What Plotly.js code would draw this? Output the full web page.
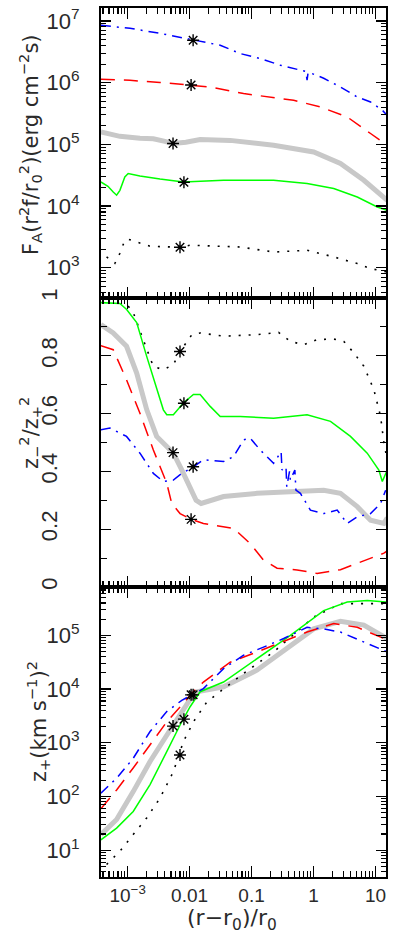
<!DOCTYPE html>
<html>
<head>
<meta charset="utf-8">
<script src="https://cdn.plot.ly/plotly-3.0.1.min.js"></script>
<style>
  html, body { margin: 0; padding: 0; background: #fff; }
  #chart { width: 393px; height: 935px; }
</style>
</head>
<body>
<div id="chart"></div>
<script>
// ---------- data ----------
// Panel 1: F_A (r^2 f / r0^2)  [erg cm^-2 s]
const blueTopX = [3.70e-4, 1.09e-3, 3.33e-3, 7.0e-3, 0.0114, 0.0167, 0.0312, 0.0656, 0.138, 0.291, 0.614, 0.75, 0.787, 0.82, 1.46, 2.72, 5.08, 8.33, 12.9, 15.5];
const blueTopY = [8.5e6, 7.6e6, 6.3e6, 5.4e6, 4.87e6, 4.57e6, 4.04e6, 2.96e6, 2.46e6, 1.92e6, 1.59e6, 1.52e6, 1.1e6, 1.49e6, 1.18e6, 8.5e5, 5.86e5, 4.86e5, 3.57e5, 2.95e5];
const redTopX = [3.70e-4, 1.09e-3, 3.33e-3, 0.01057, 0.0215, 0.0743, 0.201, 0.478, 1.29, 3.50, 8.33, 15.5];
const redTopY = [1.135e6, 1.09e6, 1.01e6, 9.18e5, 8.5e5, 6.65e5, 5.86e5, 5.19e5, 4.04e5, 2.78e5, 1.50e5, 9.66e4];
const greyTopX = [3.70e-4, 7.5e-4, 1.58e-3, 2.6e-3, 4.0e-3, 5.4e-3, 8.7e-3, 0.0148, 0.0452, 0.227, 1.007, 2.72, 6.49, 10.7, 15.5];
const greyTopY = [1.59e5, 1.35e5, 1.26e5, 1.23e5, 1.12e5, 1.03e5, 1.08e5, 1.20e5, 1.16e5, 9.66e4, 7.53e4, 4.89e4, 2.62e4, 1.69e4, 1.24e4];
const greenTopX = [3.70e-4, 4.81e-4, 5.85e-4, 6.64e-4, 7.5e-4, 9.0e-4, 1.02e-3, 1.58e-3, 3.33e-3, 7.94e-3, 0.0353, 0.227, 0.787, 2.12, 5.08, 10.7, 15.5];
const greenTopY = [2.46e4, 2.09e4, 1.69e4, 1.50e4, 1.80e4, 2.97e4, 3.37e4, 3.08e4, 2.75e4, 2.46e4, 2.62e4, 2.62e4, 2.32e4, 1.92e4, 1.40e4, 9.66e3, 8.55e3];
const blackTopX = [4.57e-4, 5.37e-4, 6.23e-4, 7.5e-4, 9.0e-4, 1.02e-3, 2.3e-3, 7.0e-3, 0.0102, 0.0656, 0.227, 0.787, 2.12, 5.08, 8.33, 15.5];
const blackTopY = [1.50e3, 1.30e3, 1.18e3, 1.72e3, 2.79e3, 2.90e3, 2.23e3, 2.15e3, 2.32e3, 2.17e3, 1.80e3, 1.92e3, 1.50e3, 1.17e3, 9.7e2, 8.55e2];

// Panel 2: z-^2 / z+^2
const greenMidX = [3.70e-4, 7.5e-4, 9.64e-4, 1.40e-3, 2.03e-3, 2.94e-3, 3.77e-3, 4.28e-3, 5.47e-3, 7.94e-3, 0.01153, 0.0148, 0.0215, 0.0312, 0.0656, 0.227, 0.787, 1.88, 3.95, 7.36, 11.35, 12.9, 15.5];
const greenMidY = [0.984, 0.981, 0.96, 0.915, 0.798, 0.683, 0.613, 0.596, 0.596, 0.637, 0.666, 0.666, 0.625, 0.59, 0.59, 0.584, 0.596, 0.573, 0.521, 0.463, 0.405, 0.365, 0.405];
const blackMidX = [1.02e-3, 1.23e-3, 1.79e-3, 2.60e-3, 3.77e-3, 5.47e-3, 7.02e-3, 0.01086, 0.0148, 0.0353, 0.122, 0.273, 0.423, 0.694, 1.14, 2.12, 3.08, 4.48, 6.49, 9.42, 12.1, 13.7, 15.5];
const blackMidY = [0.972, 0.95, 0.855, 0.763, 0.752, 0.769, 0.815, 0.873, 0.879, 0.868, 0.873, 0.881, 0.85, 0.838, 0.856, 0.858, 0.85, 0.81, 0.764, 0.683, 0.59, 0.498, 0.44];
const greyMidX = [3.70e-4, 5.85e-4, 9.6e-4, 1.40e-3, 2.03e-3, 2.94e-3, 4.28e-3, 5.47e-3, 7.47e-3, 0.0102, 0.01273, 0.01535, 0.0353, 0.122, 0.423, 1.46, 2.72, 5.08, 8.33, 13.7, 15.5];
const greyMidY = [0.908, 0.879, 0.833, 0.74, 0.614, 0.521, 0.486, 0.463, 0.405, 0.347, 0.30, 0.289, 0.313, 0.324, 0.33, 0.335, 0.324, 0.278, 0.231, 0.22, 0.24];
const redMidX = [3.70e-4, 5.85e-4, 9.6e-4, 1.58e-3, 2.60e-3, 4.28e-3, 5.15e-3, 7.02e-3, 0.01057, 0.0167, 0.0512, 0.0953, 0.156, 0.258, 0.543, 1.14, 2.72, 5.74, 13.7, 15.5];
const redMidY = [0.835, 0.821, 0.717, 0.601, 0.474, 0.359, 0.289, 0.254, 0.234, 0.22, 0.203, 0.15, 0.093, 0.065, 0.059, 0.047, 0.06, 0.087, 0.117, 0.125];
const blueMidX = [3.70e-4, 5.18e-4, 9.6e-4, 1.58e-3, 2.60e-3, 3.77e-3, 5.47e-3, 7.47e-3, 0.01153, 0.0167, 0.0353, 0.0512, 0.0743, 0.0953, 0.138, 0.227, 0.30, 0.31, 0.36, 0.37, 0.41, 0.423, 0.50, 0.52, 0.614, 0.891, 1.46, 2.41, 3.50, 5.08, 8.33, 12.1, 14.6];
const blueMidY = [0.544, 0.55, 0.521, 0.463, 0.393, 0.365, 0.37, 0.393, 0.416, 0.44, 0.434, 0.451, 0.509, 0.515, 0.474, 0.428, 0.468, 0.405, 0.416, 0.347, 0.40, 0.37, 0.405, 0.335, 0.324, 0.266, 0.254, 0.266, 0.22, 0.243, 0.254, 0.289, 0.335];

// Panel 3: z+^2  [(km s^-1)^2]
const greenBotX = [3.70e-4, 6.64e-4, 1.23e-3, 2.30e-3, 4.28e-3, 7.02e-3, 0.0102, 0.0148, 0.0353, 0.122, 0.423, 1.46, 3.50, 7.36, 15.5];
const greenBotY = [15.6, 25.7, 52.5, 166, 684, 2140, 4680, 8910, 1.35e4, 3.72e4, 1.0e5, 2.88e5, 4.17e5, 4.47e5, 4.17e5];
const blackBotX = [4.57e-4, 7.5e-4, 1.23e-3, 2.03e-3, 3.33e-3, 5.47e-3, 7.94e-3, 0.01153, 0.019, 0.0353, 0.0743, 0.227, 1.007, 2.72, 13.7];
const blackBotY = [5.41, 9.55, 19.5, 39.8, 93.3, 288, 1050, 2450, 5750, 1.02e4, 1.95e4, 4.90e4, 2.19e5, 3.89e5, 3.89e5];
const greyBotX = [3.70e-4, 6.64e-4, 1.23e-3, 2.30e-3, 4.28e-3, 7.02e-3, 0.01086, 0.0131, 0.0353, 0.122, 0.423, 1.007, 2.72, 6.49, 15.5];
const greyBotY = [19.5, 37.2, 123, 447, 1380, 3310, 7240, 8910, 1.10e4, 2.24e4, 6.46e4, 1.32e5, 1.82e5, 1.55e5, 8.71e4];
const redBotX = [3.70e-4, 6.64e-4, 1.23e-3, 2.30e-3, 4.28e-3, 7.47e-3, 0.01086, 0.0167, 0.0452, 0.122, 0.330, 0.787, 2.12, 5.08, 13.7];
const redBotY = [58.9, 132, 339, 912, 2450, 5010, 8320, 1.35e4, 3.16e4, 4.90e4, 7.59e4, 1.15e5, 1.66e5, 1.41e5, 8.71e4];
const blueBotX = [3.70e-4, 6.64e-4, 1.23e-3, 2.30e-3, 4.28e-3, 7.47e-3, 0.01086, 0.0167, 0.0353, 0.0743, 0.156, 0.330, 0.787, 1.46, 2.72, 6.49, 15.5];
const blueBotY = [115, 219, 513, 1620, 3800, 6170, 7760, 1.02e4, 2.40e4, 4.27e4, 6.03e4, 8.71e4, 1.41e5, 1.32e5, 1.15e5, 7.59e4, 4.90e4];

// asterisk markers (order: blue, red, grey, green, black)
const starX = [0.0114, 0.01057, 5.4e-3, 8.1e-3, 7.0e-3];
const starTopY = [4.87e6, 9.18e5, 1.03e5, 2.43e4, 2.15e3];
const starMidY = [0.416, 0.234, 0.465, 0.636, 0.815];
const starBotY = [7.8e3, 7.8e3, 2.04e3, 2.75e3, 5.9e2];

// tick labels
const xTickVals = [1e-3, 0.01, 0.1, 1, 10];
const xTickText = ['10<sup>−3</sup>', '0.01', '0.1', '1', '10'];
const topTickVals = [1e3, 1e4, 1e5, 1e6, 1e7];
const topTickText = ['10<sup>3</sup>', '10<sup>4</sup>', '10<sup>5</sup>', '10<sup>6</sup>', '10<sup>7</sup>'];
const midTickVals = [0, 0.2, 0.4, 0.6, 0.8, 1];
const midTickText = ['0', '0.2', '0.4', '0.6', '0.8', '1'];
const botTickVals = [10, 100, 1e3, 1e4, 1e5];
const botTickText = ['10<sup>1</sup>', '10<sup>2</sup>', '10<sup>3</sup>', '10<sup>4</sup>', '10<sup>5</sup>'];

// ---------- styling ----------
const FONT = 'Liberation Sans, Arial, sans-serif';
const TFONT = 'DejaVu Sans, sans-serif';
const TXT = '#2a2a2a';
function minorLog(lo, hi) {
  const v = [];
  for (let k = lo; k <= hi; k++) for (let m = 2; m <= 9; m++) v.push(m * Math.pow(10, k));
  return v;
}
const styles = {
  blue:  {color: '#0000ff', width: 1.5, dash: '10px,6px,2px,6px'},
  red:   {color: '#ff0000', width: 1.5, dash: '14px,9px'},
  grey:  {color: '#c8c8c8', width: 5},
  green: {color: '#00ff00', width: 1.5},
  black: {color: '#000000', width: 1.6, dash: '2px,8px'}
};
function line(x, y, s, xa, ya) {
  return {x: x, y: y, type: 'scatter', mode: 'lines', line: s, xaxis: xa, yaxis: ya, hoverinfo: 'skip', showlegend: false};
}
function stars(y, xa, ya) {
  return {x: starX, y: y, type: 'scatter', mode: 'markers', xaxis: xa, yaxis: ya, showlegend: false,
    marker: {symbol: 'asterisk-open', size: 10, color: '#000', line: {color: '#000', width: 1.4}}};
}

const traces = [
  line(greyTopX, greyTopY, styles.grey, 'x', 'y'),
  line(blackTopX, blackTopY, styles.black, 'x', 'y'),
  line(greenTopX, greenTopY, styles.green, 'x', 'y'),
  line(redTopX, redTopY, styles.red, 'x', 'y'),
  line(blueTopX, blueTopY, styles.blue, 'x', 'y'),
  stars(starTopY, 'x', 'y'),
  line(greyMidX, greyMidY, styles.grey, 'x2', 'y2'),
  line(blackMidX, blackMidY, styles.black, 'x2', 'y2'),
  line(greenMidX, greenMidY, styles.green, 'x2', 'y2'),
  line(redMidX, redMidY, styles.red, 'x2', 'y2'),
  line(blueMidX, blueMidY, styles.blue, 'x2', 'y2'),
  stars(starMidY, 'x2', 'y2'),
  line(greyBotX, greyBotY, styles.grey, 'x3', 'y3'),
  line(blackBotX, blackBotY, styles.black, 'x3', 'y3'),
  line(greenBotX, greenBotY, styles.green, 'x3', 'y3'),
  line(redBotX, redBotY, styles.red, 'x3', 'y3'),
  line(blueBotX, blueBotY, styles.blue, 'x3', 'y3'),
  stars(starBotY, 'x3', 'y3')
];

const XR = [-3.43, 1.17];
function xAxis(anchor, labels) {
  return {
    type: 'log', range: XR, anchor: anchor, domain: [0, 1],
    showline: true, linecolor: '#000', linewidth: 2, mirror: 'allticks',
    ticks: 'inside', ticklen: 11, tickwidth: 1.3, tickcolor: '#000',
    tickmode: 'array', tickvals: xTickVals, ticktext: xTickText,
    showticklabels: labels, tickfont: {family: FONT, size: 19, color: TXT},
    ticklabelstandoff: 0,
    minor: {tickmode: 'array', tickvals: minorLog(-4, 1), ticks: 'inside', ticklen: 6, tickwidth: 1.1, tickcolor: '#000'},
    showgrid: false, zeroline: false, fixedrange: true
  };
}
function yLog(domain, range, vals, text, anchor, lo, hi) {
  return {
    type: 'log', range: range, domain: domain, anchor: anchor,
    showline: true, linecolor: '#000', linewidth: 2, mirror: 'allticks',
    ticks: 'inside', ticklen: 10, tickwidth: 1.3, tickcolor: '#000',
    tickmode: 'array', tickvals: vals, ticktext: text,
    tickfont: {family: FONT, size: 22, color: TXT}, ticklabelstandoff: 15,
    minor: {tickmode: 'array', tickvals: minorLog(lo, hi), ticks: 'inside', ticklen: 5, tickwidth: 1.1, tickcolor: '#000'},
    showgrid: false, zeroline: false, fixedrange: true
  };
}
const H = 869;
const d3 = [0, 290 / H], d2 = [290 / H, 579 / H], d1 = [579 / H, 1];

const layout = {
  width: 393, height: 935,
  margin: {l: 101, r: 7, t: 8, b: 58},
  paper_bgcolor: '#fff', plot_bgcolor: '#fff',
  showlegend: false,
  xaxis: xAxis('y', false),
  xaxis2: xAxis('y2', false),
  xaxis3: xAxis('y3', true),
  yaxis: yLog(d1, [2.51, 7.21], topTickVals, topTickText, 'x', 2, 7),
  yaxis2: {
    type: 'linear', range: [0, 1], domain: d2, anchor: 'x2',
    showline: true, linecolor: '#000', linewidth: 2, mirror: 'allticks',
    ticks: 'inside', ticklen: 10, tickwidth: 1.3, tickcolor: '#000',
    tickmode: 'array', tickvals: midTickVals, ticktext: midTickText, tickangle: -90,
    tickfont: {family: FONT, size: 22, color: TXT}, ticklabelstandoff: 33,
    minor: {tickmode: 'array', tickvals: [0.1, 0.3, 0.5, 0.7, 0.9], ticks: 'inside', ticklen: 6, tickwidth: 1.1, tickcolor: '#000'},
    showgrid: false, zeroline: false, fixedrange: true
  },
  yaxis3: yLog(d3, [0.5, 5.9], botTickVals, botTickText, 'x3', 0, 5),
  annotations: [
    {xref: 'paper', yref: 'paper', x: (30 - 101) / 285, y: (877 - 145) / H, xanchor: 'center', yanchor: 'middle',
     textangle: -90, showarrow: false, font: {family: TFONT, size: 21, color: TXT},
     text: 'F<sub>A</sub>(r<sup>2</sup>f/r<sub>0</sub><sup>2</sup>)(erg cm<sup>−2</sup>s)'},
    {xref: 'paper', yref: 'paper', x: (30 - 101) / 285, y: (877 - 433) / H, xanchor: 'center', yanchor: 'middle',
     textangle: -90, showarrow: false, font: {family: TFONT, size: 21, color: TXT},
     text: 'z<sub>−</sub><sup>2</sup>/z<sub>+</sub><sup>2</sup>'},
    {xref: 'paper', yref: 'paper', x: (38 - 101) / 285, y: (877 - 722) / H, xanchor: 'center', yanchor: 'middle',
     textangle: -90, showarrow: false, font: {family: TFONT, size: 21, color: TXT},
     text: 'z<sub>+</sub>(km s<sup>−1</sup>)<sup>2</sup>'},
    {xref: 'paper', yref: 'paper', x: (232 - 101) / 285, y: (877 - 919.5) / H, xanchor: 'center', yanchor: 'middle',
     showarrow: false, font: {family: TFONT, size: 22, color: TXT},
     text: '(r−r<sub>0</sub>)/r<sub>0</sub>'}
  ]
};

Plotly.newPlot('chart', traces, layout, {displayModeBar: false, staticPlot: true});
</script>
</body>
</html>
